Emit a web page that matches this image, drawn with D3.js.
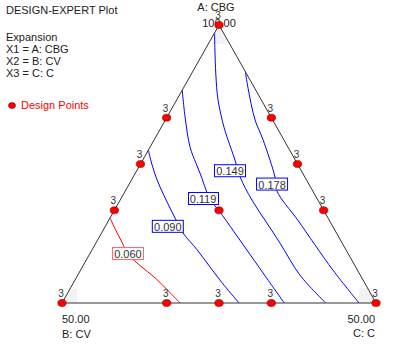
<!DOCTYPE html>
<html>
<head>
<meta charset="utf-8">
<script src="https://cdn.jsdelivr.net/npm/d3@7"></script>
<style>
  body { margin: 0; background: #fff; }
  svg { display: block; font-family: "Liberation Sans", Arial, sans-serif; }
</style>
</head>
<body>
<div id="chart"></div>
<script>
// header texts
var titleLines = ["DESIGN-EXPERT Plot"];
var infoLines = ["Expansion", "X1 = A: CBG", "X2 = B: CV", "X3 = C: C"];
var legendLabel = "Design Points";

// components, vertex labels
var components = ["A: CBG", "B: CV", "C: C"];
var vertexValues = ["100.00", "50.00", "50.00"];

// contours, as [B, C] pairs (A = 100 - B - C)
var contourLevels = ["0.060", "0.090", "0.119", "0.149", "0.178"];
var contour060 = [[34.7, 0], [34.9, 2.1], [35.0, 4.2], [35.1, 6.1], [34.2, 9.1], [32.9, 12.6], [32.0, 15.8], [31.2, 18.8]];
var contour090 = [[22.5, 0], [23.2, 1.8], [23.8, 4.1], [24.1, 6.6], [24.3, 9.3], [24.4, 11.4], [24.4, 13.2], [23.7, 16.7], [23.2, 20.3], [22.6, 24.2], [21.8, 28.2]];
var contour119 = [[11.7, 0], [13.7, 2.9], [15.6, 6.4], [16.1, 8.8], [16.5, 11.1], [17.0, 13.2], [17.0, 15.1], [16.7, 16.7], [16.2, 21.0], [15.7, 25.5], [15.2, 30.1], [14.6, 35.4]];
var contour149 = [[1.4, 0], [2.9, 1.6], [5.0, 4.0], [6.9, 6.6], [8.4, 10.0], [8.9, 11.8], [9.6, 14.7], [10.3, 17.0], [10.5, 21.0], [10.2, 25.2], [9.9, 29.3], [9.6, 35.4], [8.0, 42.0]];
var contour178 = [[0, 8.4], [1.0, 10.2], [2.8, 14.3], [3.3, 17.3], [4.8, 22.7], [5.7, 24.2], [5.0, 30.1], [3.9, 40.2], [2.7, 47.3]];
var contourColors = ["#ff0000", "#0000ff", "#0000ff", "#0000ff", "#0000ff"];
// label positions [B, C]
var labelPos = [[35.1, 6.1], [26.3, 10.0], [18.2, 13.1], [11.4, 14.9], [5.9, 22.8]];

// design points [B, C] and replicate counts
var designB = [0, 50, 0, 16.67, 25, 33.33, 0, 0, 0, 33.33, 25, 16.67, 16.67];
var designC = [0, 0, 50, 0, 0, 0, 16.67, 25, 33.33, 16.67, 25, 33.33, 16.67];
var designReps = [3, 3, 3, 3, 3, 3, 3, 3, 3, 3, 3, 3, 1];

var width = 407, height = 355;

var svg = d3.select("#chart")
    .append("svg")
    .attr("width", width)
    .attr("height", height);

// scales: x along the base (fraction), y by A
var xScale = d3.scaleLinear().domain([0, 1]).range([62, 376]);
var yScale = d3.scaleLinear().domain([50, 100]).range([303, 25]);

function proj(b, c) {
    var A = 100 - b - c;
    var a = (A - 50) / 50;
    return [xScale(c / 50 + a / 2), yScale(A)];
}

var vTop = proj(0, 0), vLeft = proj(50, 0), vRight = proj(0, 50);
var triPath = "M" + [vTop, vLeft, vRight].join("L") + "Z";

// clip to triangle
svg.append("clipPath").attr("id", "tri")
    .append("path")
    .attr("d", triPath);

// faint shading near vertices
var shade = svg.append("g").attr("clip-path", "url(#tri)");
shade.append("rect").attr("x", vTop[0] - 7).attr("y", vTop[1]).attr("width", 14).attr("height", 19).attr("fill", "#f2f2f2");
shade.append("rect").attr("x", vLeft[0]).attr("y", vLeft[1] - 14).attr("width", 15).attr("height", 14).attr("fill", "#f2f2f2");
shade.append("rect").attr("x", vRight[0] - 17).attr("y", vRight[1] - 15).attr("width", 17).attr("height", 15).attr("fill", "#f2f2f2");

// header text
var txt = svg.append("g").attr("font-size", "11px").attr("fill", "#222");
txt.append("text").attr("x", 6).attr("y", 14).text(titleLines[0]);
infoLines.forEach(function (s, i) {
    txt.append("text").attr("x", 6).attr("y", 41 + i * 12).text(s);
});

// legend
svg.append("ellipse").attr("cx", 12).attr("cy", 105.5).attr("rx", 3.5).attr("ry", 3)
    .attr("fill", "#ff0000").attr("stroke", "#800000").attr("stroke-width", 0.6);
svg.append("text").attr("x", 21).attr("y", 109).attr("font-size", "11px")
    .attr("fill", "#ff0000").text(legendLabel);

// contour lines
var contours = [contour060, contour090, contour119, contour149, contour178];
var line = d3.line()
    .x(function (d) { return proj(d[0], d[1])[0]; })
    .y(function (d) { return proj(d[0], d[1])[1]; })
    .curve(d3.curveCatmullRom.alpha(0.5));

svg.append("g").attr("clip-path", "url(#tri)")
    .selectAll("path")
    .data(contours)
    .enter().append("path")
    .attr("d", line)
    .attr("fill", "none")
    .attr("stroke", function (d, i) { return contourColors[i]; })
    .attr("stroke-width", 1);

// triangle outline
svg.append("path")
    .attr("d", triPath)
    .attr("fill", "none")
    .attr("stroke", "#333")
    .attr("stroke-width", 1);

// replicate counts
svg.append("g").selectAll("text")
    .data(designB.map(function (b, i) { return [b, designC[i], designReps[i]]; })
        .filter(function (d) { return d[2] > 1; }))
    .enter().append("text")
    .attr("x", function (d) { return proj(d[0], d[1])[0] - 1; })
    .attr("y", function (d) { return proj(d[0], d[1])[1] - 6; })
    .attr("text-anchor", "middle")
    .attr("font-size", "10px")
    .attr("fill", "#333")
    .text(function (d) { return d[2]; });

// vertex labels
var vl = svg.append("g").attr("font-size", "11px").attr("fill", "#222");
vl.append("text").attr("x", vTop[0] - 3).attr("y", 11).attr("text-anchor", "middle").text(components[0]);
vl.append("text").attr("x", vTop[0]).attr("y", 27).attr("text-anchor", "middle").text(vertexValues[0]);
vl.append("text").attr("x", vLeft[0]).attr("y", vLeft[1] + 20).text(vertexValues[1]);
vl.append("text").attr("x", vLeft[0]).attr("y", vLeft[1] + 35).text(components[1]);
vl.append("text").attr("x", vRight[0] - 1).attr("y", vRight[1] + 20).attr("text-anchor", "end").text(vertexValues[2]);
vl.append("text").attr("x", vRight[0] - 1).attr("y", vRight[1] + 34).attr("text-anchor", "end").text(components[2]);

// contour labels
var lab = svg.append("g").selectAll("g")
    .data(contourLevels)
    .enter().append("g")
    .attr("transform", function (d, i) {
        var p = proj(labelPos[i][0], labelPos[i][1]);
        return "translate(" + p[0] + "," + p[1] + ")";
    });
lab.append("rect")
    .attr("fill", "#fff")
    .attr("stroke", function (d, i) { return i == 0 ? "#ff6060" : "#0000ff"; })
    .attr("stroke-width", 1);
lab.append("text")
    .attr("text-anchor", "middle")
    .attr("y", 4)
    .attr("font-size", "11px")
    .attr("fill", "#333")
    .text(function (d) { return d; });
lab.each(function () {
    var g = d3.select(this);
    var w = g.select("text").node().getComputedTextLength();
    g.select("rect")
        .attr("x", Math.round(-w / 2 - 2) + 0.5)
        .attr("y", -6.5)
        .attr("width", Math.round(w + 3))
        .attr("height", 12);
});

// design points
svg.append("g").selectAll("ellipse")
    .data(designB.map(function (b, i) { return [b, designC[i]]; }))
    .enter().append("ellipse")
    .attr("cx", function (d) { return proj(d[0], d[1])[0]; })
    .attr("cy", function (d) { return proj(d[0], d[1])[1]; })
    .attr("rx", 4.2)
    .attr("ry", 3.5)
    .attr("fill", "#ff0000")
    .attr("stroke", "#800000")
    .attr("stroke-width", 0.6);
</script>
</body>
</html>
